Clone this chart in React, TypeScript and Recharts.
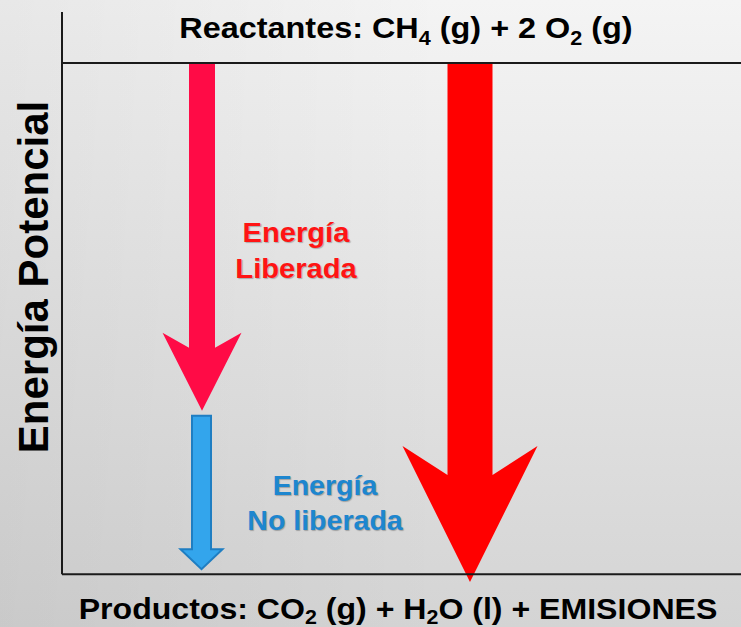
import { ComposedChart, Bar, XAxis, YAxis, ReferenceLine } from "recharts";

// energy levels (arbitrary units, reactantes = 100, productos = 0)
const nivelReactantes = 100;
const nivelProductos = 0;

// two columns of arrows
const categories = ["reaccion", "total"];
// [low, high] range of each arrow, per column
const energiaLiberada = [[32, 100], null];
const energiaNoLiberada = [[1, 31], null];
const energiaTotal = [null, [-1.5, 100]];

const data = categories.map((cat, i) => ({
  cat,
  liberada: energiaLiberada[i],
  noLiberada: energiaNoLiberada[i],
  total: energiaTotal[i],
}));

// text pieces, "_" marks a subscript
const tituloReactantes = ["Reactantes: CH", "_4", " (g) + 2 O", "_2", " (g)"];
const tituloProductos = ["Productos: CO", "_2", " (g) + H", "_2", "O (l) + EMISIONES"];

const FONT = "'Liberation Sans', Arial, Helvetica, sans-serif";
const LINE = "#1a1a1a";

type ArrowStyle = { shaft: number; headLen: number; notch: number; fill: string; stroke?: string };

const arrowShape = (st: ArrowStyle) => (props: any) => {
  const { x, y, width, height } = props;
  if (x == null || y == null || !width || !height) return <g />;
  const top = Math.min(y, y + height);
  const bottom = Math.max(y, y + height);
  const cx = x + width / 2;
  const hw = width / 2;
  const sw = st.shaft / 2;
  const base = bottom - st.headLen;
  const pts = [
    [cx - sw, top], [cx + sw, top], [cx + sw, base + st.notch], [cx + hw, base],
    [cx, bottom], [cx - hw, base], [cx - sw, base + st.notch],
  ];
  return (
    <polygon
      points={pts.map((p) => p.join(",")).join(" ")}
      fill={st.fill}
      stroke={st.stroke || "none"}
      strokeWidth={st.stroke ? 2 : 0}
    />
  );
};

function Stretch({ x, y, sx = 1, size, color = "#000", shadow, children }: any) {
  return (
    <text
      transform={`translate(${x},${y}) scale(${sx},1)`}
      textAnchor="middle"
      fontFamily={FONT}
      fontWeight="bold"
      fontSize={size}
      fill={color}
      style={shadow ? { textShadow: "1px 1px 1px rgba(0,0,0,0.25)" } : undefined}
    >
      {children}
    </text>
  );
}

// render pieces with subscripts as tspans
function pieces(parts: string[], subSize: number, drop: number) {
  let down = false;
  return parts.map((p, i) => {
    const isSub = p.startsWith("_");
    const dy = isSub ? drop : down ? -drop : 0;
    down = isSub;
    return (
      <tspan key={i} dy={dy} fontSize={isSub ? subSize : undefined}>
        {isSub ? p.slice(1) : p}
      </tspan>
    );
  });
}

const TitleLabel = () => (
  <Stretch x={406} y={38} sx={1.08} size={30}>
    {pieces(tituloReactantes, 20, 7)}
  </Stretch>
);

const BottomLabel = () => (
  <Stretch x={398} y={619} sx={1.07} size={30}>
    {pieces(tituloProductos, 20, 5)}
  </Stretch>
);

const YLabel = () => (
  <text
    transform="translate(48,277) rotate(-90)"
    textAnchor="middle"
    fontFamily={FONT}
    fontWeight="bold"
    fontSize={42}
    fill="#000"
  >
    Energía Potencial
  </text>
);

const LiberadaLabel = () => (
  <g>
    <Stretch x={296} y={242} sx={1.04} size={28} color="#ff1414" shadow>Energía</Stretch>
    <Stretch x={296} y={278} sx={1.04} size={28} color="#ff1414" shadow>Liberada</Stretch>
  </g>
);

const NoLiberadaLabel = () => (
  <g>
    <Stretch x={325} y={495} sx={1.02} size={28} color="#1d86cf" shadow>Energía</Stretch>
    <Stretch x={325} y={530} sx={1.02} size={28} color="#1d86cf" shadow>No liberada</Stretch>
  </g>
);

const catAxisProps = {
  type: "category" as const,
  dataKey: "cat",
  hide: true,
  padding: { left: 5.5, right: 137.5 },
};

export default function App() {
  return (
    <div
      style={{
        position: "absolute",
        left: 0,
        top: 0,
        width: 741,
        height: 627,
        background:
          "linear-gradient(to right, rgba(0,0,0,0.05), rgba(0,0,0,0) 60%), linear-gradient(to bottom, #f4f4f4, #d4d4d4)",
      }}
    >
      <ComposedChart
        width={741}
        height={627}
        data={data}
        margin={{ top: 12, right: 0, left: 62, bottom: 45 }}
      >
        <XAxis xAxisId="n" type="number" domain={[0, 100]} allowDataOverflow hide />
        <XAxis xAxisId="a" {...catAxisProps} />
        <XAxis xAxisId="b" {...catAxisProps} />
        <XAxis xAxisId="c" {...catAxisProps} />
        <YAxis type="number" domain={[-1.5, 110]} allowDataOverflow hide />

        {/* energy levels */}
        <ReferenceLine
          xAxisId="n"
          segment={[{ x: 0, y: nivelReactantes }, { x: 89, y: nivelReactantes }]}
          ifOverflow="visible"
          stroke={LINE}
          strokeWidth={2}
          label={<TitleLabel />}
        />
        <ReferenceLine
          xAxisId="n"
          y={nivelProductos}
          ifOverflow="visible"
          stroke={LINE}
          strokeWidth={2}
          label={<BottomLabel />}
        />
        <ReferenceLine
          xAxisId="n"
          segment={[{ x: 0, y: nivelProductos }, { x: 0, y: 110 }]}
          ifOverflow="visible"
          stroke={LINE}
          strokeWidth={2}
          label={<YLabel />}
        />

        <Bar
          xAxisId="a"
          dataKey="liberada"
          barSize={79}
          isAnimationActive={false}
          shape={arrowShape({ shaft: 26, headLen: 78, notch: 15, fill: "#ff0b46" })}
          label={<LiberadaLabel />}
        />
        <Bar
          xAxisId="b"
          dataKey="noLiberada"
          barSize={42}
          isAnimationActive={false}
          shape={arrowShape({ shaft: 19, headLen: 20, notch: 0, fill: "#33a5ec", stroke: "#1f7ec2" })}
          label={<NoLiberadaLabel />}
        />
        <Bar
          xAxisId="c"
          dataKey="total"
          barSize={135}
          isAnimationActive={false}
          shape={arrowShape({ shaft: 45, headLen: 136, notch: 29, fill: "#ff0000" })}
        />
      </ComposedChart>
    </div>
  );
}
